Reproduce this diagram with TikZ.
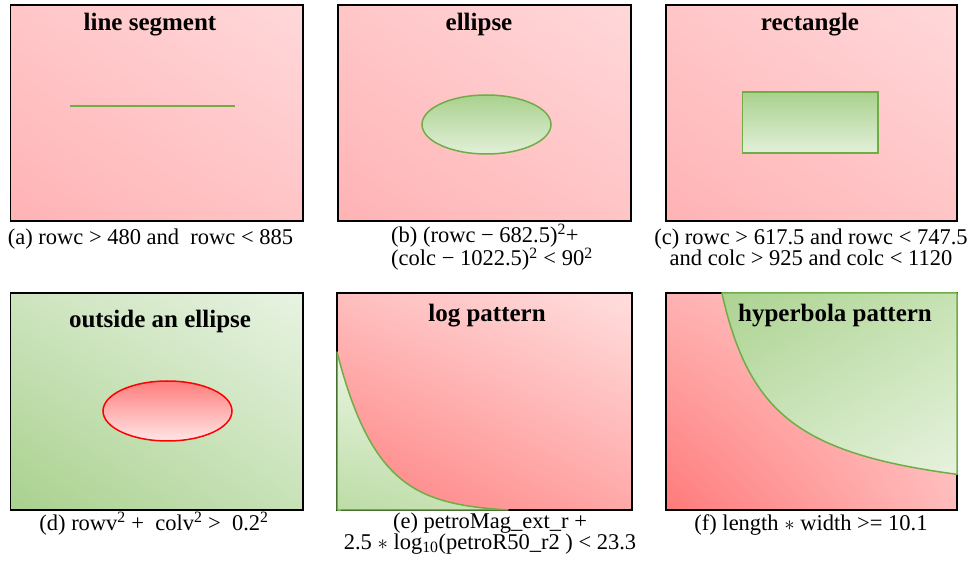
\documentclass[tikz,border=0pt]{standalone}
\usepackage{fontspec}
\usetikzlibrary{shadings}
\setmainfont{Liberation Serif}
\definecolor{gstroke}{HTML}{70AD47}
\definecolor{gdark}{HTML}{A9D18E}
\definecolor{glight}{HTML}{E2F0D9}
% pink panels a-c
\definecolor{pLL}{HTML}{FFB3B5}
\definecolor{pUR}{HTML}{FFD8DA}
\definecolor{pUL}{HTML}{FFC6C8}
\definecolor{pLR}{HTML}{FFC4C6}
% green panel d
\definecolor{dLL}{HTML}{A9D18E}
\definecolor{dUR}{HTML}{E8F3E2}
\definecolor{dUL}{HTML}{CDE4BE}
\definecolor{dLR}{HTML}{C8E2B8}
% red ellipse
\definecolor{rTop}{HTML}{FF7D7D}
\definecolor{rBot}{HTML}{FFE6E6}
% panel e
\definecolor{eLL}{HTML}{FF8080}
\definecolor{eUR}{HTML}{FFDEDE}
\definecolor{eUL}{HTML}{FFBEBE}
\definecolor{eLR}{HTML}{FFA8A8}
\definecolor{egLL}{HTML}{BCDCA5}
\definecolor{egUR}{HTML}{E4F1DC}
\definecolor{egUL}{HTML}{EAF5E3}
\definecolor{egLR}{HTML}{CBE4B9}
% panel f
\definecolor{fLL}{HTML}{FF7A7A}
\definecolor{fUR}{HTML}{FFCDCD}
\definecolor{fUL}{HTML}{FFB2B2}
\definecolor{fLR}{HTML}{FFBCBC}
\definecolor{fgUL}{HTML}{ACD392}
\definecolor{fgUR}{HTML}{C6E2B2}
\definecolor{fgLL}{HTML}{CDE5BC}
\definecolor{fgLR}{HTML}{E6F2DE}
\tikzset{
  frame/.style={draw=black, line width=1.8pt},
  titletext/.style={font=\bfseries\fontsize{25}{28}\selectfont, inner sep=0pt, anchor=base},
  captext/.style={font=\fontsize{22.5}{21}\selectfont, inner sep=0pt, anchor=base, align=center},
  gshape/.style={draw=gstroke, line width=1.5pt, top color=gdark, bottom color=glight},
  pinkbg/.style={lower left=pLL, upper right=pUR, upper left=pUL, lower right=pLR},
}
\begin{document}
\begin{tikzpicture}[x=1pt, y=-1pt]
\useasboundingbox (0,0) rectangle (970,561);

% ---------- (a) line segment
\shade[pinkbg] (10.5,5) rectangle (303,221);
\draw[frame] (10.5,5) rectangle (303,221);
\node[titletext] (ta) at (150,31) {line segment};
\draw[gstroke, line width=1.5pt] (70,106) -- (235,106);
\node[captext] (ca) at (150.5,245) {(a) rowc > 480 and\ \ rowc < 885};

% ---------- (b) ellipse
\shade[pinkbg] (338,5) rectangle (631,221);
\draw[frame] (338,5) rectangle (631,221);
\node[titletext] (tb) at (479,31) {ellipse};
\draw[gshape] (486.5,124.5) ellipse [x radius=64.5, y radius=29.5];
\node[captext, align=left, anchor=base west] (cb) at (391,266) {(b) (rowc − 682.5)\textsuperscript{2}+\\(colc − 1022.5)\textsuperscript{2} < 90\textsuperscript{2}};

% ---------- (c) rectangle
\shade[pinkbg] (666,5) rectangle (957,221);
\draw[frame] (666,5) rectangle (957,221);
\node[titletext] (tc) at (810,31) {rectangle};
\draw[gshape] (742.7,92) rectangle (878,153);
\node[captext] (cc) at (811,266) {(c) rowc > 617.5 and rowc < 747.5\\and colc > 925 and colc < 1120};

% ---------- (d) outside an ellipse
\shade[lower left=dLL, upper right=dUR, upper left=dUL, lower right=dLR] (10.5,293) rectangle (303,510);
\draw[frame] (10.5,293) rectangle (303,510);
\node[titletext] (td) at (160,328) {outside an ellipse};
\draw[draw=red, line width=1.5pt, top color=rTop, bottom color=rBot]
  (167.5,411) ellipse [x radius=64.5, y radius=30];
\node[captext] (cd) at (154,530) {(d) rowv\textsuperscript{2} +\ \ colv\textsuperscript{2} >\ \ 0.2\textsuperscript{2}};

% ---------- (e) log pattern
\shade[lower left=eLL, upper right=eUR, upper left=eUL, lower right=eLR] (337,293) rectangle (632,510);
\draw[frame] (337,293) rectangle (632,510);
\shade[lower left=egLL, upper right=egUR, upper left=egUL, lower right=egLR]
  (337,352) -- plot[domain=0:171, samples=80] ({337+\x},{510-160.4*exp(-0.0245*\x)+2.4}) -- (337,510) -- cycle;
\draw[gstroke, line width=1.5pt, line join=round]
  (337,352) -- plot[domain=0:171, samples=80] ({337+\x},{510-160.4*exp(-0.0245*\x)+2.4}) -- (337,510) -- cycle;
\node[titletext] (te) at (487,322) {log pattern};
\node[captext] (ce) at (490,549) {(e) petroMag\_ext\_r +\\2.5 $\ast$ log\textsubscript{10}(petroR50\_r2 ) < 23.3};

% ---------- (f) hyperbola pattern
\shade[lower left=fLL, upper right=fUR, upper left=fUL, lower right=fLR] (666,293) rectangle (957,510);
\draw[frame] (666,293) rectangle (957,510);
\shade[upper left=fgUL, upper right=fgUR, lower left=fgLL, lower right=fgLR]
  (722,293) -- plot[domain=48.9:284, samples=100] ({673+\x},{512-10700/\x}) -- (957,293) -- cycle;
\draw[gstroke, line width=1.5pt, line join=round]
  (722,293) -- plot[domain=48.9:284, samples=100] ({673+\x},{512-10700/\x}) -- (957,293) -- cycle;
\node[titletext] (tf) at (835,322) {hyperbola pattern};
\node[captext] (cf) at (811,530) {(f) length $\ast$ width >= 10.1};
\end{tikzpicture}
\end{document}
